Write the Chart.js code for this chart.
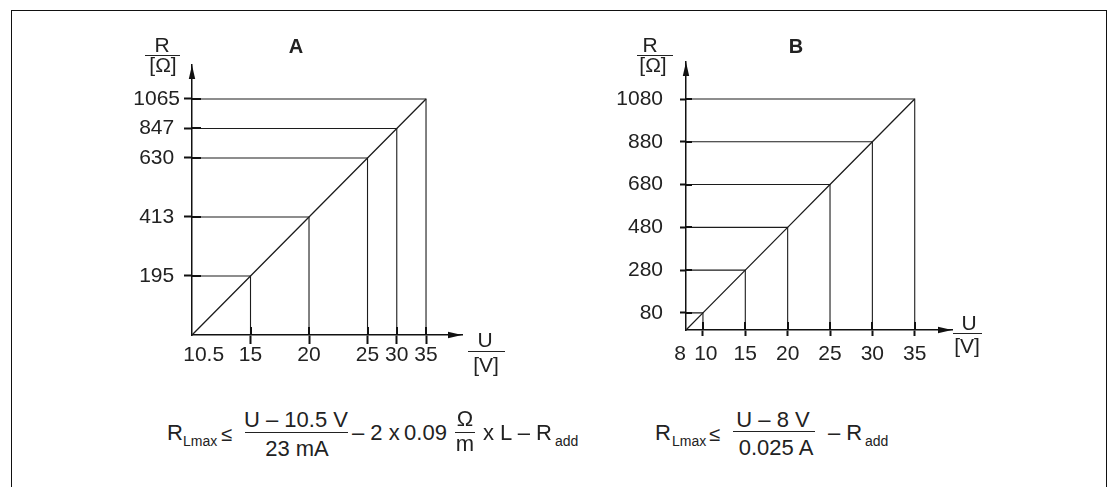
<!DOCTYPE html>
<html><head><meta charset="utf-8">
<script src="https://cdn.jsdelivr.net/npm/chart.js@4.4.1/dist/chart.umd.min.js"></script>
<style>
html,body{margin:0;padding:0;background:#fff;}
body{width:1112px;height:487px;position:relative;overflow:hidden;font-family:'Liberation Sans',Arial,Helvetica,sans-serif;color:#222;}
#frame{position:absolute;left:11px;top:10px;width:1096px;height:520px;border:1.5px solid #111;box-sizing:border-box;}
canvas{position:absolute;top:0;}
#cA{left:0;}
#cB{left:560px;}
.t{position:absolute;line-height:1;white-space:nowrap;color:#222;}
.c{transform:translateX(-50%);}
.f21{font-size:21px;}
.f22{font-size:22px;}
.f20{font-size:20px;}
.f14{font-size:14px;}
.b{font-weight:bold;font-size:20px;}
.rule{position:absolute;height:1.2px;background:#222;}
</style></head>
<body>
<div id="frame"></div>
<canvas id="cA" width="560" height="400"></canvas>
<canvas id="cB" width="552" height="400"></canvas>

<!-- panel letters -->
<div class="t c b" style="left:296px;top:36px;">A</div>
<div class="t c b" style="left:796px;top:36px;">B</div>

<!-- axis titles A -->
<div class="t c f21" style="left:162px;top:34px;">R</div>
<div class="rule" style="left:145px;top:55px;width:35px;"></div>
<div class="t c f21" style="left:163px;top:54px;">[Ω]</div>
<div class="t c f21" style="left:485px;top:329px;">U</div>
<div class="rule" style="left:468px;top:351px;width:37px;"></div>
<div class="t c f21" style="left:486px;top:354px;">[V]</div>

<!-- axis titles B -->
<div class="t c f21" style="left:650px;top:34px;">R</div>
<div class="rule" style="left:637px;top:55px;width:36px;"></div>
<div class="t c f21" style="left:653px;top:54px;">[Ω]</div>
<div class="t c f21" style="left:969px;top:312px;">U</div>
<div class="rule" style="left:953px;top:333px;width:29px;"></div>
<div class="t c f21" style="left:967px;top:335px;">[V]</div>

<!-- formula A -->
<div class="t f22" style="left:167px;top:422px;">R</div>
<div class="t f14" style="left:183px;top:434px;">Lmax</div>
<div class="t f20" style="left:221px;top:424px;">≤</div>
<div class="t c f22" style="left:296px;top:409px;">U – 10.5 V</div>
<div class="rule" style="left:245px;top:432px;width:103px;"></div>
<div class="t c f22" style="left:297px;top:438px;">23 mA</div>
<div class="t f22" style="left:352px;top:422px;">– 2 x&#8201;0.09</div>
<div class="t c f22" style="left:465px;top:408px;">Ω</div>
<div class="rule" style="left:455px;top:432px;width:20px;"></div>
<div class="t c f22" style="left:465px;top:433px;">m</div>
<div class="t f22" style="left:483px;top:422px;">x L – R</div>
<div class="t f14" style="left:555px;top:434px;">add</div>

<!-- formula B -->
<div class="t f22" style="left:655px;top:422px;">R</div>
<div class="t f14" style="left:672px;top:434px;">Lmax</div>
<div class="t f20" style="left:709px;top:424px;">≤</div>
<div class="t c f22" style="left:773px;top:409px;">U – 8 V</div>
<div class="rule" style="left:733px;top:431px;width:82px;"></div>
<div class="t c f22" style="left:776px;top:437px;">0.025 A</div>
<div class="t f22" style="left:828px;top:422px;">– R</div>
<div class="t f14" style="left:865px;top:434px;">add</div>

<script>
// ---------- data ----------
const voltsA = [10.5, 15, 20, 25, 30, 35];
const ohmsA  = [0, 195, 413, 630, 847, 1065];
const uLabelsA = ['10.5', '15', '20', '25', '30', '35'];
const rLabelsA = ['195', '413', '630', '847', '1065'];

const voltsB = [8, 10, 15, 20, 25, 30, 35];
const ohmsB  = [0, 80, 280, 480, 680, 880, 1080];
const uLabelsB = ['8', '10', '15', '20', '25', '30', '35'];
const rLabelsB = ['80', '280', '480', '680', '880', '1080'];

// ---------- schematic (piecewise) scale for diagram A ----------
function makeStepScale(id, stops, weights, tail, skipFirstTick) {
  const total = weights.reduce((a, b) => a + b, 0) + tail;
  class StepScale extends Chart.LinearScale {
    determineDataLimits() { this.min = stops[0]; this.max = stops[stops.length - 1]; }
    buildTicks() {
      return stops.filter((v, i) => !(skipFirstTick && i === 0)).map(v => ({ value: v }));
    }
    _dec(v) {
      let acc = 0;
      for (let i = 0; i < weights.length; i++) {
        if (v <= stops[i + 1] || i === weights.length - 1) {
          const t = (v - stops[i]) / (stops[i + 1] - stops[i]);
          return (acc + t * weights[i]) / total;
        }
        acc += weights[i];
      }
      return 0;
    }
    getPixelForValue(v) { return this.getPixelForDecimal(this._dec(v)); }
    getValueForPixel(p) {
      const d = this.getDecimalForPixel(p) * total;
      let acc = 0;
      for (let i = 0; i < weights.length; i++) {
        if (d <= acc + weights[i] || i === weights.length - 1) {
          return stops[i] + (d - acc) / weights[i] * (stops[i + 1] - stops[i]);
        }
        acc += weights[i];
      }
      return stops[0];
    }
  }
  StepScale.id = id;
  StepScale.defaults = { ticks: { callback: v => String(v) } };
  Chart.register(StepScale);
}
makeStepScale('stepUA', voltsA, [2, 2, 2, 1, 1], 1.23, false);
makeStepScale('stepRA', ohmsA, [2, 2, 2, 1, 1], 1.15, true);

const FONT = "'Liberation Sans', Arial, Helvetica, sans-serif";
const INK = '#1c1c1c';

function buildDatasets(volts, ohms) {
  const ds = [{ data: volts.map((u, i) => ({ x: u, y: ohms[i] })), borderWidth: 1.3 }];
  for (let i = 1; i < volts.length; i++) {
    ds.push({
      data: [{ x: volts[0], y: ohms[i] }, { x: volts[i], y: ohms[i] }, { x: volts[i], y: ohms[0] }],
      borderWidth: 1.1
    });
  }
  return ds.map(d => Object.assign({
    showLine: true, borderColor: INK, backgroundColor: INK, pointRadius: 0,
    fill: false, tension: 0, clip: false
  }, d));
}

function deco(cfg) {
  return {
    id: 'deco',
    afterDraw(chart) {
      const { ctx, chartArea: a } = chart;
      const x = chart.scales.x, y = chart.scales.y;
      ctx.save();
      ctx.strokeStyle = '#111';
      ctx.lineWidth = 2;
      x.ticks.forEach((t, i) => {
        if (i === 0 && cfg.skipX0) return;
        const px = Math.round(x.getPixelForValue(t.value));
        ctx.beginPath(); ctx.moveTo(px, a.bottom); ctx.lineTo(px, a.bottom - cfg.xIn); ctx.stroke();
      });
      y.ticks.forEach(t => {
        const py = Math.round(y.getPixelForValue(t.value));
        ctx.beginPath(); ctx.moveTo(a.left, py); ctx.lineTo(a.left + cfg.yIn, py); ctx.stroke();
      });
      ctx.fillStyle = '#111';
      ctx.beginPath(); ctx.moveTo(a.left, a.top); ctx.lineTo(a.left - 3.2, a.top + 14); ctx.lineTo(a.left + 3.2, a.top + 14); ctx.closePath(); ctx.fill();
      ctx.beginPath(); ctx.moveTo(a.right, a.bottom); ctx.lineTo(a.right - 14, a.bottom - 3.2); ctx.lineTo(a.right - 14, a.bottom + 3.2); ctx.closePath(); ctx.fill();
      ctx.restore();
    }
  };
}

function axisCommon(tickLength, padding, skipFirst, callback, afterFit) {
  return {
    border: { display: true, color: '#111', width: 1.5 },
    grid: {
      drawOnChartArea: false, drawTicks: true, tickLength: tickLength, tickWidth: 2,
      color: '#111',
      tickColor: c => (skipFirst && c.index === 0) ? 'rgba(0,0,0,0)' : '#111'
    },
    ticks: {
      autoSkip: false, maxRotation: 0, minRotation: 0, padding: padding, color: '#222',
      font: { family: FONT, size: 21, lineHeight: 1 },
      callback: callback
    },
    afterFit: afterFit
  };
}

const common = {
  responsive: false, animation: false, devicePixelRatio: 1, events: [],
  plugins: { legend: { display: false }, tooltip: { enabled: false }, title: { display: false } }
};

// ---------- chart A ----------
new Chart(document.getElementById('cA'), {
  type: 'scatter',
  data: { datasets: buildDatasets(voltsA, ohmsA) },
  options: Object.assign({}, common, {
    layout: { padding: { left: 0, top: 65, right: 98, bottom: 0 } },
    scales: {
      x: Object.assign({ type: 'stepUA', position: 'bottom' },
        axisCommon(9, 1, true, (v, i) => (i === 0 ? '    ' : '') + uLabelsA[i], s => { s.height = 65; })),
      y: Object.assign({ type: 'stepRA', position: 'left' },
        axisCommon(8, 4, false, (v, i) => rLabelsA[i] + (rLabelsA[i].length < 4 ? ' ' : ''), s => { s.width = 192; }))
    }
  }),
  plugins: [deco({ xIn: 8, yIn: 9, skipX0: true })]
});

// ---------- chart B ----------
new Chart(document.getElementById('cB'), {
  type: 'scatter',
  data: { datasets: buildDatasets(voltsB, ohmsB) },
  options: Object.assign({}, common, {
    layout: { padding: { left: 0, top: 62, right: 160, bottom: 0 } },
    scales: {
      x: Object.assign({ type: 'linear', position: 'bottom', min: 8, max: 39.4, bounds: 'data',
        afterBuildTicks: s => { s.ticks = voltsB.map(v => ({ value: v })); } },
        axisCommon(6, 8, true, (v, i) => (i === 0 ? uLabelsB[i] + '  ' : i === 1 ? ' ' + uLabelsB[i] : uLabelsB[i]), s => { s.height = 70; })),
      y: Object.assign({ type: 'linear', position: 'left', min: 0, max: 1253, bounds: 'data',
        afterBuildTicks: s => { s.ticks = ohmsB.slice(1).map(v => ({ value: v })); } },
        axisCommon(6, 17, false, (v, i) => rLabelsB[i], s => { s.width = 126; }))
    }
  }),
  plugins: [deco({ xIn: 8, yIn: 6, skipX0: true })]
});
</script>
</body></html>
